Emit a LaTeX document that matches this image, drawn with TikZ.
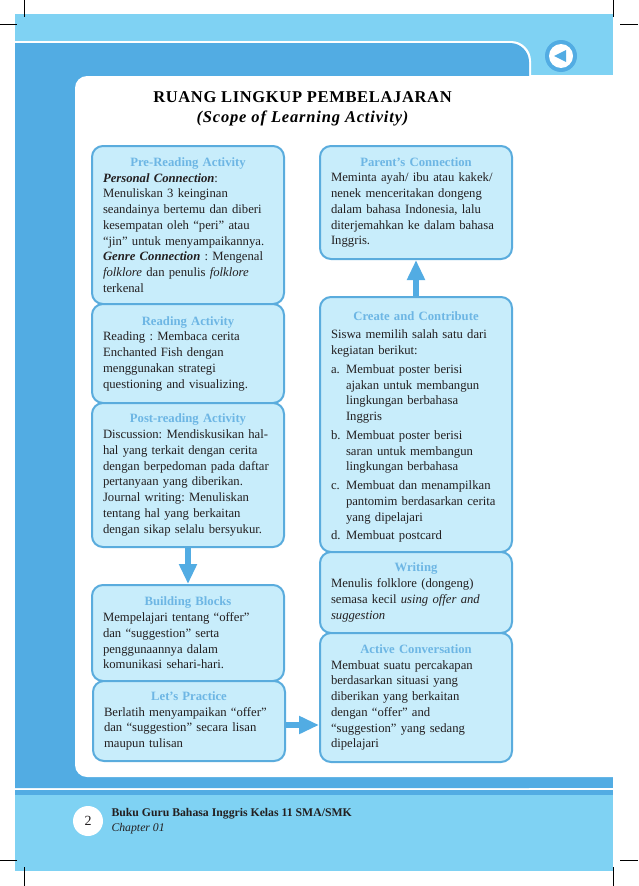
\documentclass[tikz,border=0pt]{standalone}
\usepackage{fontspec}
\setmainfont{Liberation Serif}
\usepackage{tikz}
\usetikzlibrary{arrows.meta}
\frenchspacing
\newcommand{\boxhead}[2][0pt]{\makebox[\linewidth][c]{\bfseries\color{headBlue}#2}\\[#1]}
\newcommand{\itemline}[1]{\makebox[15pt][l]{#1}}
\begin{document}
\begin{tikzpicture}[x=1pt,y=-1pt,
  activity/.style={draw=edgeBlue,fill=boxBlue,line width=2pt,rounded corners=11pt,anchor=north west,
    text width=170pt,inner xsep=11pt,inner ysep=0pt,align=left,text=inkGrey,
    font=\fontsize{12.7pt}{15.75pt}\selectfont},
  flow/.style={draw=midBlue,line width=6.5pt,-{Triangle[width=17pt,length=20pt]}},
  crop/.style={draw=black,line width=0.5pt}]
\definecolor{paleBlue}{HTML}{7FD2F3}
\definecolor{midBlue}{HTML}{52ACE3}
\definecolor{boxBlue}{HTML}{C8EDFB}
\definecolor{edgeBlue}{HTML}{5AACDD}
\definecolor{headBlue}{HTML}{6DB6E4}
\definecolor{inkGrey}{HTML}{231F20}
\useasboundingbox (0,0) rectangle (638,886);
\fill[paleBlue] (15,14) rectangle (613,871);
% white rim, blue frame, white panel
\fill[white] (15,41) [rounded corners=20pt] -- (531,41) [sharp corners] -- (531,75) -- (613,75) -- (613,790) -- (15,790) -- cycle;
\fill[midBlue] (15,43) [rounded corners=19pt] -- (529,43) [sharp corners] -- (529,788) -- (15,788) -- cycle;
\fill[midBlue] (500,770) rectangle (613,788);
\fill[white] (613,76) [rounded corners=12pt] -- (75,76) -- (75,777) [sharp corners] -- (613,777) -- cycle;
\fill[midBlue] (15,790) rectangle (613,795);
\fill[midBlue] (561,56) circle[radius=16];
\fill[white] (561,56) circle[radius=12];
\fill[midBlue] (554,56) -- (566,50) -- (566,62) -- cycle;
\foreach \x/\ya/\yb in {24/0/17,613/0/17,24/867/886,613/867/886} {
  \draw[crop] (\x,\ya) -- (\x,\yb);
}
\foreach \xa/\xb/\y in {0/17/24,620/638/24,0/17/860,620/638/860} {
  \draw[crop] (\xa,\y) -- (\xb,\y);
}
\node (title) at (302.5,97) {\fontsize{16.5pt}{18pt}\selectfont\bfseries\addfontfeature{LetterSpace=4}RUANG LINGKUP PEMBELAJARAN};
\node (subtitle) at (302.5,118) {\fontsize{16.5pt}{18pt}\selectfont\bfseries\itshape\addfontfeature{LetterSpace=5}(Scope of Learning Activity)};
\node[activity,minimum height=158pt] (prereading) at (91,145) {\boxhead{Pre-Reading Activity}
  \textbf{\textit{Personal Connection}}:\\ Menuliskan 3 keinginan\\ seandainya bertemu dan diberi\\ kesempatan oleh “peri” atau\\ “jin” untuk menyampaikannya.\\
  \textbf{\textit{Genre Connection}} : Mengenal\\ \textit{folklore} dan penulis \textit{folklore}\\ terkenal};
\node[activity,minimum height=99pt] (reading) at (91,303) {\boxhead{Reading Activity}
  Reading : Membaca cerita\\ Enchanted Fish dengan\\ menggunakan strategi\\ questioning and visualizing.};
\node[activity,minimum height=144pt] (postreading) at (91,402) {\boxhead{Post-reading Activity}
  Discussion: Mendiskusikan hal-\\ hal yang terkait dengan cerita\\ dengan berpedoman pada daftar\\ pertanyaan  yang diberikan.\\ Journal writing: Menuliskan\\ tentang hal yang berkaitan\\ dengan sikap selalu bersyukur.};
\node[activity,minimum height=96pt] (blocks) at (91,584) {\boxhead{Building Blocks}
  Mempelajari tentang “offer”\\ dan “suggestion” serta\\ penggunaannya dalam\\ komunikasi sehari-hari.};
\node[activity,minimum height=80pt] (practice) at (92,680) {\boxhead{Let’s Practice}
  Berlatih menyampaikan “offer”\\ dan “suggestion” secara lisan\\ maupun tulisan};
\node[activity,minimum height=113pt] (parent) at (319,145) {\boxhead{Parent’s Connection}
  Meminta ayah/ ibu atau kakek/\\ nenek menceritakan dongeng\\ dalam bahasa Indonesia, lalu\\ diterjemahkan ke dalam bahasa\\ Inggris.};
\node[activity,minimum height=255pt] (create) at (319,296) {\rule{0pt}{13.5pt}\boxhead[3pt]{Create and Contribute}
  Siswa memilih salah satu dari\\ kegiatan berikut:\\[3pt]
  \itemline{a.}Membuat poster berisi\\ \itemline{}ajakan untuk membangun\\ \itemline{}lingkungan berbahasa\\ \itemline{}Inggris\\[3pt]
  \itemline{b.}Membuat poster berisi\\ \itemline{}saran  untuk membangun\\ \itemline{}lingkungan berbahasa\\[3pt]
  \itemline{c.}Membuat dan menampilkan\\ \itemline{}pantomim berdasarkan cerita\\ \itemline{}yang dipelajari\\[3pt]
  \itemline{d.}Membuat postcard};
\node[activity,minimum height=81pt] (writing) at (319,551) {\boxhead{Writing}
  Menulis folklore (dongeng)\\ semasa kecil \textit{using offer and}\\ \textit{suggestion}};
\node[activity,minimum height=129pt] (conversation) at (319,632) {\boxhead{Active Conversation}
  Membuat suatu percakapan\\ berdasarkan situasi yang\\ diberikan yang berkaitan\\ dengan  “offer” and\\ “suggestion” yang sedang\\ dipelajari};
\draw[flow] (postreading) -- (blocks);
\draw[flow] ([yshift=-4pt]practice.east) -- ([yshift=-4pt]practice.east -| conversation.west);
\draw[flow] (create) -- (parent);
\fill[white] (88,821) circle[radius=15];
\node[font=\fontsize{14pt}{16pt}\selectfont,text=inkGrey] (pagenum) at (88,821) {2};
\node[anchor=west,font=\fontsize{11.75pt}{14pt}\selectfont\bfseries,text=inkGrey] (bookname) at (108,814) {Buku Guru Bahasa Inggris Kelas 11 SMA/SMK};
\node[anchor=west,font=\fontsize{11.75pt}{14pt}\selectfont\itshape,text=inkGrey] (chapter) at (108,829) {Chapter 01};
\end{tikzpicture}
\end{document}
